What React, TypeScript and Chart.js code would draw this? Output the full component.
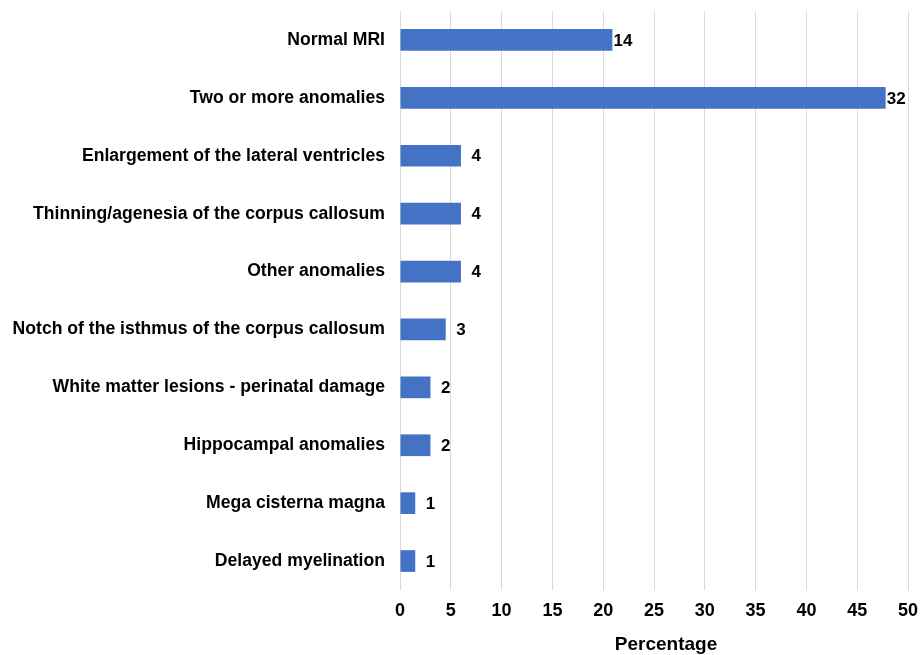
import { useEffect, useRef } from "react";
import { Chart, registerables } from "chart.js";

Chart.register(...registerables);

// MRI findings, top to bottom
const categories = [
  "Normal MRI",
  "Two or more anomalies",
  "Enlargement of the lateral ventricles",
  "Thinning/agenesia of the corpus callosum",
  "Other anomalies",
  "Notch of the isthmus of the corpus callosum",
  "White matter lesions - perinatal damage",
  "Hippocampal anomalies",
  "Mega cisterna magna",
  "Delayed myelination",
];

// Share of patients (%) per finding
const percentages = [20.9, 47.8, 6.0, 6.0, 6.0, 4.5, 3.0, 3.0, 1.5, 1.5];

// Number of patients per finding, printed next to each bar
const counts = [14, 32, 4, 4, 4, 3, 2, 2, 1, 1];

const axisTitle = "Percentage";

const FONT = '"Liberation Sans", Arial, Helvetica, sans-serif';

// Count printed just past the end of each bar
const countLabels = {
  id: "countLabels",
  afterDatasetsDraw(chart: any) {
    const { ctx } = chart;
    const meta = chart.getDatasetMeta(0);
    ctx.save();
    ctx.font = `bold 17px ${FONT}`;
    ctx.fillStyle = "#000000";
    ctx.textAlign = "right";
    ctx.textBaseline = "middle";
    meta.data.forEach((bar: any, i: number) => {
      ctx.fillText(String(counts[i]), bar.x + 20, bar.y + 1);
    });
    ctx.restore();
  },
};

// Horizontal axis title, set a little right of the plot centre
const xTitle = {
  id: "xTitle",
  afterDraw(chart: any) {
    const { ctx, chartArea } = chart;
    ctx.save();
    ctx.font = `bold 19px ${FONT}`;
    ctx.fillStyle = "#000000";
    ctx.textAlign = "center";
    ctx.textBaseline = "middle";
    ctx.fillText(axisTitle, (chartArea.left + chartArea.right) / 2 + 12, chartArea.bottom + 55);
    ctx.restore();
  },
};

export default function App() {
  const ref = useRef<HTMLCanvasElement>(null);

  useEffect(() => {
    document.body.style.margin = "0";
    const chart = new Chart(ref.current!, {
      type: "bar",
      data: {
        labels: categories,
        datasets: [
          {
            data: percentages,
            backgroundColor: "#4472C4",
            borderWidth: 0,
            categoryPercentage: 1,
            barPercentage: 0.375,
          },
        ],
      },
      options: {
        indexAxis: "y",
        responsive: false,
        animation: false,
        layout: { padding: { top: 11, right: 13, bottom: 0, left: 0 } },
        plugins: {
          legend: { display: false },
          tooltip: { enabled: false },
        },
        scales: {
          x: {
            min: 0,
            max: 50,
            ticks: {
              stepSize: 5,
              padding: 10,
              color: "#000000",
              font: { family: FONT, size: 18, weight: "bold" },
            },
            grid: { color: "#d9d9d9", lineWidth: 1, drawTicks: false },
            border: { display: false },
            afterFit(scale: any) {
              scale.height = 65;
              scale.paddingLeft = 0;
              scale.paddingRight = 0;
            },
          },
          y: {
            ticks: {
              padding: 15,
              color: "#000000",
              font: { family: FONT, size: 17.6, weight: "bold" },
            },
            grid: { display: false, drawTicks: false },
            border: { display: false },
            afterFit(scale: any) {
              scale.width = 400;
              scale.paddingTop = 0;
              scale.paddingBottom = 0;
            },
          },
        },
      },
      plugins: [countLabels, xTitle],
    });
    return () => chart.destroy();
  }, []);

  return (
    <div style={{ width: 921, height: 655, background: "#ffffff" }}>
      <canvas ref={ref} width={921} height={655} />
    </div>
  );
}
